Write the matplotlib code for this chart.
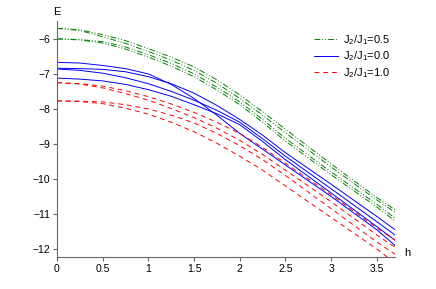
import matplotlib
matplotlib.use("Agg")
import matplotlib.pyplot as plt

h = [0.0, 0.25, 0.5, 0.75, 1.0, 1.25, 1.5, 1.75, 2.0, 2.25, 2.5, 3.0, 3.5, 3.7]

# J2/J1 = 0.5 levels
green_levels = [
    [-5.70, -5.74, -5.88, -6.05, -6.28, -6.52, -6.80, -7.17, -7.60, -8.08, -8.58, -9.57, -10.53, -10.88],
    [-5.70, -5.76, -5.94, -6.13, -6.36, -6.61, -6.90, -7.27, -7.70, -8.18, -8.68, -9.66, -10.60, -10.95],
    [-6.00, -6.02, -6.08, -6.23, -6.45, -6.70, -7.00, -7.38, -7.80, -8.30, -8.84, -9.80, -10.72, -11.12],
    [-6.00, -6.03, -6.12, -6.29, -6.52, -6.78, -7.08, -7.46, -7.88, -8.38, -8.92, -9.88, -10.80, -11.20],
]

# J2/J1 = 0.0 levels
blue_levels = [
    [-6.67, -6.69, -6.76, -6.85, -7.00, -7.30, -7.70, -8.18, -8.70, -9.15, -9.60, -10.50, -11.45, -11.90],
    [-6.84, -6.85, -6.87, -6.94, -7.08, -7.28, -7.55, -7.90, -8.30, -8.75, -9.25, -10.15, -11.07, -11.45],
    [-6.86, -6.90, -6.98, -7.11, -7.28, -7.50, -7.75, -8.04, -8.38, -8.85, -9.35, -10.28, -11.22, -11.60],
    [-7.12, -7.15, -7.20, -7.30, -7.45, -7.64, -7.88, -8.14, -8.45, -8.93, -9.45, -10.40, -11.36, -11.75],
]

# J2/J1 = 1.0 levels
red_levels = [
    [-7.25, -7.28, -7.35, -7.48, -7.65, -7.86, -8.10, -8.38, -8.70, -9.10, -9.55, -10.45, -11.40, -11.75],
    [-7.25, -7.29, -7.40, -7.56, -7.75, -7.99, -8.25, -8.55, -8.90, -9.30, -9.75, -10.65, -11.60, -11.95],
    [-7.77, -7.78, -7.80, -7.88, -8.00, -8.18, -8.40, -8.70, -9.05, -9.45, -9.90, -10.85, -11.80, -12.15],
    [-7.77, -7.79, -7.85, -7.98, -8.15, -8.38, -8.65, -8.98, -9.35, -9.75, -10.20, -11.10, -12.00, -12.40],
]

labels = ["J$_2$/J$_1$=0.5", "J$_2$/J$_1$=0.0", "J$_2$/J$_1$=1.0"]

plt.rcParams['font.family'] = ['Liberation Sans', 'DejaVu Sans']
plt.rcParams['mathtext.fontset'] = 'custom'
plt.rcParams['mathtext.rm'] = 'Liberation Sans'
plt.rcParams['mathtext.it'] = 'Liberation Sans'

fig = plt.figure(figsize=(4.36, 2.89), dpi=100)
ax = fig.add_axes([0.1307, 0.1107, 0.7753, 0.8166])

# one legend entry per family of levels
for i, e in enumerate(green_levels):
    ax.plot(h, e, color='green', lw=0.7, dashes=(6, 2, 1, 2, 1, 2),
            label=labels[0] if i == 0 else None)
for i, e in enumerate(blue_levels):
    ax.plot(h, e, color='blue', lw=0.7,
            label=labels[1] if i == 0 else None)
for i, e in enumerate(red_levels):
    ax.plot(h, e, color='red', lw=0.7, dashes=(5, 4),
            label=labels[2] if i == 0 else None)

ax.set_xlim(0, 3.7)
ax.set_ylim(-12.23, -5.49)
ax.set_xticks([0, 0.5, 1, 1.5, 2, 2.5, 3, 3.5])
ax.set_xticklabels(['0', '0.5', '1', '1.5', '2', '2.5', '3', '3.5'])
ax.set_yticks([-12, -11, -10, -9, -8, -7, -6])

for side in ['top', 'right']:
    ax.spines[side].set_visible(False)
for side in ['left', 'bottom']:
    ax.spines[side].set_color('#666666')
    ax.spines[side].set_linewidth(0.8)
ax.tick_params(direction='out', length=3, width=0.8, color='#666666',
               labelsize=7.5, pad=2)

fig.text(57 / 436, 1 - 12 / 289, 'E', fontsize=8, ha='center', va='center')
fig.text(407 / 436, 1 - 253 / 289, 'h', fontsize=8, ha='center', va='center')

ax.legend(loc='upper left', bbox_to_anchor=(314 / 436, 1 - 33 / 289),
          bbox_transform=fig.transFigure, frameon=False, fontsize=8,
          handlelength=2.2, handletextpad=0.4, labelspacing=0.25,
          borderpad=0, borderaxespad=0)

fig.savefig('out.png', dpi=100)
